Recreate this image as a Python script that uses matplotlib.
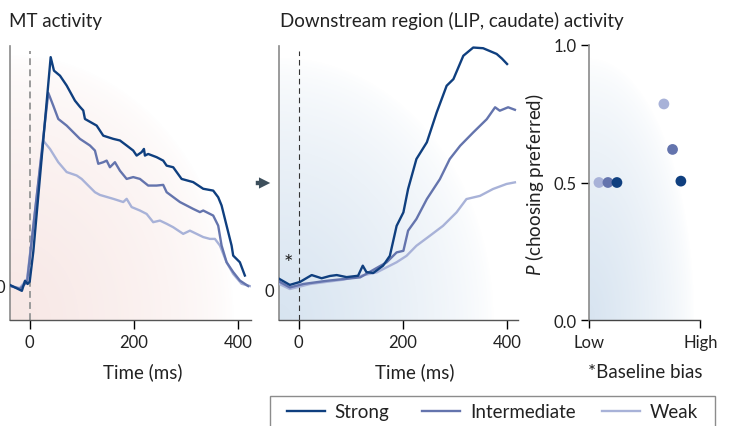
import numpy as np
import matplotlib
matplotlib.use("Agg")
import matplotlib.pyplot as plt
from matplotlib.lines import Line2D
from matplotlib.patches import Rectangle, FancyArrowPatch

plt.rcParams['font.family'] = ['Lato', 'DejaVu Sans']
plt.rcParams['mathtext.fontset'] = 'custom'
plt.rcParams['mathtext.it'] = 'Lato:italic'
plt.rcParams['mathtext.rm'] = 'Lato'

# ---------------- data ----------------
series_names = ["Strong", "Intermediate", "Weak"]
series_colors = ["#0f3f7f", "#6474ad", "#a8b2d8"]

# MT activity (time in ms, activity in a.u.)
mt_strong_t = [-38, -15, -9, -4, 0, 7, 40.3, 46.6, 58.2, 71.0, 86.9, 96.5, 102.9, 106.1, 128.6, 141.3, 160.5,
               173.3, 186.2, 198.8, 205.4, 215.0, 219.4, 221.3, 227.6, 243.8, 256.4, 263.0, 275.6, 282.2, 291.7,
               314.0, 333.2, 352.4, 362.0, 368.5, 378.1, 387.7, 390.8, 403.6, 413.2]
mt_strong_v = [0.004, -0.022, 0.022, 0.008, 0.018, 0.15, 0.999, 0.940, 0.918, 0.875, 0.809, 0.782, 0.766, 0.729,
               0.700, 0.656, 0.642, 0.635, 0.613, 0.591, 0.569, 0.584, 0.598, 0.569, 0.576, 0.562, 0.547, 0.525,
               0.518, 0.497, 0.467, 0.453, 0.424, 0.416, 0.387, 0.351, 0.263, 0.176, 0.132, 0.103, 0.045]
mt_inter_t = [-38, -19, -5, 35.7, 45.3, 54.9, 71.0, 96.5, 115.7, 125.3, 131.7, 141.3, 147.8, 154.1, 163.7, 173.3,
              186.2, 198.8, 211.7, 227.6, 243.8, 256.4, 263.0, 288.5, 314.0, 326.9, 333.2, 352.4, 362.0, 368.5,
              378.1, 390.8, 403.6, 419.6]
mt_inter_v = [0.0, -0.013, 0.017, 0.843, 0.787, 0.729, 0.700, 0.642, 0.613, 0.591, 0.533, 0.540, 0.547, 0.518,
              0.540, 0.503, 0.467, 0.475, 0.467, 0.438, 0.438, 0.441, 0.409, 0.366, 0.336, 0.322, 0.329, 0.307,
              0.263, 0.176, 0.103, 0.060, 0.023, -0.001]
mt_weak_t = [-38, -19, -5, 26.1, 39.0, 54.9, 71.0, 90.2, 99.8, 112.5, 125.3, 134.9, 160.5, 179.7, 186.2, 195.8,
             211.7, 224.6, 237.2, 250.1, 263.0, 275.6, 294.8, 307.7, 320.5, 333.2, 346.1, 355.7, 365.3, 378.1,
             390.8, 406.9, 422.8]
mt_weak_v = [0.0, -0.01, 0.03, 0.634, 0.598, 0.540, 0.497, 0.482, 0.467, 0.438, 0.409, 0.397, 0.380, 0.366, 0.380,
             0.344, 0.329, 0.314, 0.278, 0.285, 0.271, 0.256, 0.227, 0.241, 0.227, 0.213, 0.205, 0.205, 0.176,
             0.103, 0.052, 0.009, -0.001]

# Downstream region activity
ds_strong_t = [-37, -17, 2.5, 25, 44, 60, 73, 92, 114, 123, 130, 143, 162, 175, 188, 201, 210, 226, 246, 265,
               284, 297, 316, 335, 354, 380, 390, 400]
ds_strong_v = [0.047, 0.021, 0.034, 0.064, 0.050, 0.060, 0.064, 0.055, 0.061, 0.105, 0.077, 0.073, 0.105, 0.148,
               0.279, 0.338, 0.440, 0.571, 0.644, 0.775, 0.891, 0.920, 1.022, 1.058, 1.055, 1.030, 1.010, 0.986]
ds_inter_t = [-37, -17, 9, 54, 118, 169, 188, 201, 210, 226, 246, 271, 290, 310, 335, 361, 377, 386, 402, 415]
ds_inter_v = [0.035, 0.010, 0.025, 0.039, 0.054, 0.120, 0.163, 0.170, 0.258, 0.309, 0.396, 0.483, 0.571, 0.629,
              0.687, 0.745, 0.797, 0.782, 0.797, 0.786]
ds_weak_t = [-37, -17, 22, 86, 150, 188, 207, 226, 252, 277, 303, 322, 348, 373, 399, 415]
ds_weak_v = [0.025, 0.003, 0.025, 0.044, 0.076, 0.120, 0.148, 0.192, 0.236, 0.279, 0.338, 0.396, 0.410, 0.440,
             0.462, 0.469]

# Choice probability vs baseline bias
bias_low_x = [0.087, 0.168, 0.249]
bias_low_p = [0.50, 0.50, 0.50]
bias_high_x = [0.672, 0.750, 0.825]
bias_high_p = [0.785, 0.620, 0.505]
bias_colors = ["#a8b2d8", "#6474ad", "#0f3f7f"]

time_ticks = [0, 200, 400]

# ---------------- figure ----------------
W, H = 731, 427
fig = plt.figure(figsize=(W / 100, H / 100), dpi=100)


def px_axes(x0, y0, x1, y1):
    return fig.add_axes([x0 / W, 1 - y1 / H, (x1 - x0) / W, (y1 - y0) / H])


def gradient(ax, rgb, a0, rx, ry, power=0.8):
    n = 300
    xx, yy = np.meshgrid(np.linspace(0, 1, n), np.linspace(0, 1, n))
    r = np.sqrt((xx / rx) ** 2 + (yy / ry) ** 2)
    alpha = np.clip(1 - r, 0, 1) ** power * a0
    img = np.zeros((n, n, 4))
    img[..., 0] = rgb[0]
    img[..., 1] = rgb[1]
    img[..., 2] = rgb[2]
    img[..., 3] = alpha
    ax.imshow(img, extent=[0, 1, 0, 1], origin='lower', transform=ax.transAxes,
              aspect='auto', zorder=0, interpolation='bilinear')


tick_fs = 12
lab_fs = 13.5
txt_c = "#222222"

# Panel 1: MT activity
ax1 = px_axes(10, 46.7, 251, 320.7)
gradient(ax1, (0.93, 0.78, 0.76), 0.42, 0.93, 0.97, power=0.6)
ax1.plot([0, 0], [-0.148, 1.026], color="#9a9a9a", lw=1.4, ls=(0, (3.5, 2.2)), zorder=1)
for t, v, c in [(mt_weak_t, mt_weak_v, series_colors[2]),
                (mt_inter_t, mt_inter_v, series_colors[1]),
                (mt_strong_t, mt_strong_v, series_colors[0])]:
    ax1.plot(t, v, color=c, lw=1.7, solid_joinstyle='round', zorder=3)
ax1.set_xlim(-37.8, 425)
ax1.set_ylim(-0.148, 1.049)

# Panel 2: downstream region
ax2 = px_axes(279.3, 46.7, 517.5, 320.7)
gradient(ax2, (0.78, 0.85, 0.92), 0.7, 0.9, 0.96, power=0.7)
ax2.plot([0, 0], [-0.131, 1.042], color="#333333", lw=0.8, ls=(0, (5, 3.5)), zorder=1)
for t, v, c in [(ds_weak_t, ds_weak_v, series_colors[2]),
                (ds_inter_t, ds_inter_v, series_colors[1]),
                (ds_strong_t, ds_strong_v, series_colors[0])]:
    ax2.plot(t, v, color=c, lw=1.7, solid_joinstyle='round', zorder=3)
ax2.set_xlim(-37.2, 420)
ax2.set_ylim(-0.131, 1.066)
ax2.text(-20.5, 0.115, "*", ha='center', va='center', fontsize=16, color=txt_c)

for ax in (ax1, ax2):
    for s in ('top', 'right'):
        ax.spines[s].set_visible(False)
    ax.spines['left'].set_color("#8a8a8a")
    ax.spines['left'].set_linewidth(1.2)
    ax.spines['bottom'].set_color("#555555")
    ax.spines['bottom'].set_linewidth(1.0)
    ax.set_xticks(time_ticks)
    ax.set_xticklabels([str(t) for t in time_ticks])
    ax.set_yticks([0])
    ax.set_yticklabels(["0"])
    ax.tick_params(axis='x', length=6.5, width=1, color='black', labelsize=tick_fs, pad=4, labelcolor=txt_c)
    ax.tick_params(axis='y', length=0, labelsize=tick_fs, pad=3.5, labelcolor=txt_c)
    ax.patch.set_alpha(0)

fig.text(143 / W, 1 - 372 / H, "Time (ms)", ha='center', va='center', fontsize=lab_fs, color=txt_c)
fig.text(415 / W, 1 - 372 / H, "Time (ms)", ha='center', va='center', fontsize=lab_fs, color=txt_c)

# Panel 3: choice probability
ax3 = px_axes(589.3, 45.7, 700.3, 321.3)
gradient(ax3, (0.78, 0.85, 0.92), 0.7, 0.95, 0.95, power=0.7)
ax3.scatter(bias_low_x, bias_low_p, s=60, c=bias_colors, edgecolors='none', zorder=3, clip_on=False)
ax3.scatter(bias_high_x, bias_high_p, s=60, c=bias_colors, edgecolors='none', zorder=3, clip_on=False)
ax3.set_xlim(0, 1)
ax3.set_ylim(0, 1)
for s in ('top', 'right'):
    ax3.spines[s].set_visible(False)
ax3.spines['left'].set_color("#8a8a8a")
ax3.spines['left'].set_linewidth(1.2)
ax3.spines['bottom'].set_color("#444444")
ax3.spines['bottom'].set_linewidth(1.0)
ax3.set_xticks([0, 1])
ax3.set_xticklabels(["Low", "High"])
ax3.set_yticks([0, 0.5, 1.0])
ax3.set_yticklabels(["0.0", "0.5", "1.0"])
ax3.tick_params(axis='both', length=6, width=1, color='black', labelsize=tick_fs, labelcolor=txt_c)
ax3.tick_params(axis='x', pad=4)
ax3.tick_params(axis='y', pad=3)
ax3.patch.set_alpha(0)
fig.text(535 / W, 1 - 185 / H, "$P$ (choosing preferred)", rotation=90, ha='center', va='center',
         fontsize=lab_fs, color=txt_c)
fig.text(645 / W, 1 - 373 / H, "*Baseline bias", ha='center', va='center', fontsize=lab_fs, color=txt_c)

# Titles
fig.text(9 / W, 1 - 21 / H, "MT activity", ha='left', va='center', fontsize=13.5, color=txt_c)
fig.text(280 / W, 1 - 21 / H, "Downstream region (LIP, caudate) activity", ha='left', va='center',
         fontsize=13.5, color=txt_c)

# Arrow between panels
fig.add_artist(FancyArrowPatch(
    (253 / W, 1 - 184 / H), (273 / W, 1 - 184 / H), transform=fig.transFigure,
    arrowstyle='simple,head_length=0.9,head_width=0.9,tail_width=0.35', mutation_scale=9,
    color="#3d4f5c", lw=0))

# Legend box
fig.add_artist(Rectangle((270 / W, -0.05), (715 - 270) / W, 0.05 + 1 - 397 / H, transform=fig.transFigure,
                         facecolor='white', edgecolor="#8c8c8c", lw=1.0))
legend_x = [287, 422, 602]
leg_fs = 13.5
for name, col, lx in zip(series_names, series_colors, legend_x):
    h = Line2D([], [], color=col, lw=1.7)
    fig.legend([h], [name], frameon=False, loc='center left',
               bbox_to_anchor=(lx / W, 1 - 413 / H), fontsize=leg_fs, handlelength=2.05,
               handletextpad=0.5, borderpad=0, borderaxespad=0, labelcolor=txt_c)

fig.savefig("out.png", dpi=100)
